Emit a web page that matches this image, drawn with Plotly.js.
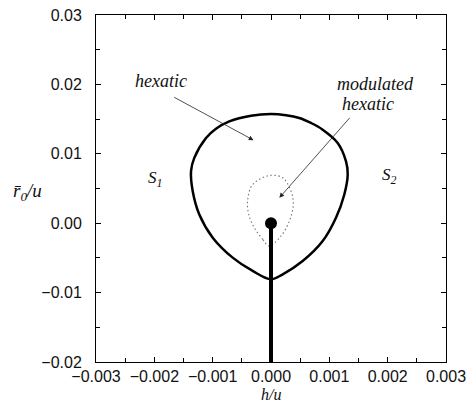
<!DOCTYPE html>
<html>
<head>
<meta charset="utf-8">
<script src="https://cdn.plot.ly/plotly-3.0.1.min.js"></script>
<style>html,body{margin:0;padding:0;background:#fff;}#chart{width:466px;height:405px;}</style>
</head>
<body>
<div id="chart"></div>
<script>
// Outer phase boundary (hexatic region), traced from cusp, left side up, over the top, right side down
const loopX = [0, -0.000314, -0.000657, -0.000999, -0.001229, -0.001342, -0.001371, -0.001315, -0.001114, -0.000943, -0.000715, -0.000343, 0, 0.000257, 0.000485, 0.000686, 0.000886, 0.001143, 0.001286, 0.001315, 0.001257, 0.001114, 0.000886, 0.000543, 0.000201, 0];
const loopY = [-0.00808, -0.00688, -0.00496, -0.00208, 0.00126, 0.00461, 0.00749, 0.00941, 0.01228, 0.01362, 0.01467, 0.01549, 0.01573, 0.01556, 0.01516, 0.01444, 0.01348, 0.01157, 0.00892, 0.00701, 0.00414, 0.00079, -0.00257, -0.00545, -0.00736, -0.00808];
// Inner dotted boundary (modulated hexatic)
const dotX = [-0.00003, -0.000142, -0.000286, -0.000382, -0.000399, -0.000314, -0.00003, 0.000201, 0.000343, 0.000382, 0.000314, 0.000171, -0.00003];
const dotY = [-0.00329, -0.00233, -0.00065, 0.00126, 0.00342, 0.00557, 0.00687, 0.00654, 0.00461, 0.0027, 0.0003, -0.00185, -0.00329];
// First-order line and critical point
const stemX = [0, 0];
const stemY = [0, -0.02];
const critX = [0];
const critY = [0];
// Ticks
const xTicks = [-0.003, -0.002, -0.001, 0, 0.001, 0.002, 0.003];
const yTicks = [-0.02, -0.01, 0, 0.01, 0.02, 0.03];

const serif = "Liberation Serif, Times New Roman, serif";
const sans = "Liberation Sans, Arial, sans-serif";

const traces = [
  {x: loopX, y: loopY, mode: 'lines', line: {color: '#000', width: 2.5, shape: 'spline', smoothing: 1}, hoverinfo: 'skip'},
  {x: dotX, y: dotY, mode: 'lines', line: {color: '#777', width: 1.1, dash: '1.5px,2.5px', shape: 'spline', smoothing: 1}, hoverinfo: 'skip'},
  {x: stemX, y: stemY, mode: 'lines', line: {color: '#000', width: 4}, hoverinfo: 'skip'},
  {x: critX, y: critY, mode: 'markers', marker: {color: '#000', size: 12}, hoverinfo: 'skip'}
];

const axisCommon = {
  showgrid: false, zeroline: false, showline: true, linecolor: '#000', linewidth: 1,
  mirror: 'ticks', ticks: 'inside', ticklen: 5, tickwidth: 1, tickcolor: '#000',
  tickfont: {family: sans, size: 16, color: '#111'}, ticklabeloverflow: 'allow'
};

const layout = {
  width: 466, height: 405,
  margin: {l: 96, r: 20, t: 15, b: 43},
  paper_bgcolor: '#fff', plot_bgcolor: '#fff',
  showlegend: false,
  xaxis: Object.assign({}, axisCommon, {
    range: [-0.003, 0.003], tickmode: 'array', tickvals: xTicks, tickformat: '.3f',
    minor: {dtick: 0.0005, ticks: 'inside', ticklen: 4, tickcolor: '#000', tickwidth: 1},
    ticklabelstandoff: 0
  }),
  yaxis: Object.assign({}, axisCommon, {
    range: [-0.02, 0.03], tickmode: 'array', tickvals: yTicks, tickformat: '.2f',
    minor: {dtick: 0.005, ticks: 'inside', ticklen: 4, tickcolor: '#000', tickwidth: 1},
    ticklabelstandoff: 10
  }),
  annotations: [
    {x: -0.0003, y: 0.01197, ax: -0.001685, ay: 0.01826, axref: 'x', ayref: 'y', xref: 'x', yref: 'y',
     showarrow: true, arrowhead: 2, arrowsize: 1.2, arrowwidth: 0.8, arrowcolor: '#222', text: ''},
    {x: 0.000143, y: 0.00366, ax: 0.001371, ay: 0.01539, axref: 'x', ayref: 'y', xref: 'x', yref: 'y',
     showarrow: true, arrowhead: 2, arrowsize: 1.2, arrowwidth: 0.8, arrowcolor: '#222', text: ''},
    {x: -0.00189, y: 0.02056, xref: 'x', yref: 'y', showarrow: false, yanchor: 'middle',
     text: '<i>hexatic</i>', font: {family: serif, size: 18, color: '#111'}},
    {x: 0.00179, y: 0.02009, xref: 'x', yref: 'y', showarrow: false, yanchor: 'middle',
     text: '<i>modulated</i>', font: {family: serif, size: 18, color: '#111'}},
    {x: 0.00166, y: 0.01721, xref: 'x', yref: 'y', showarrow: false, yanchor: 'middle',
     text: '<i>hexatic</i>', font: {family: serif, size: 18, color: '#111'}},
    {x: -0.00199, y: 0.0064, xref: 'x', yref: 'y', showarrow: false, yanchor: 'middle',
     text: '<i>S</i><sub><i>1</i></sub>', font: {family: serif, size: 17, color: '#111'}},
    {x: 0.00203, y: 0.0068, xref: 'x', yref: 'y', showarrow: false, yanchor: 'middle',
     text: '<i>S</i><sub><i>2</i></sub>', font: {family: serif, size: 17, color: '#111'}},
    {x: 0.5, y: -0.121, xref: 'paper', yref: 'paper', showarrow: false, yanchor: 'bottom', borderpad: 0,
     text: '<i>h/u</i>', font: {family: serif, size: 16, color: '#111'}},
    {x: -0.195, y: 0.49, xref: 'paper', yref: 'paper', showarrow: false, xanchor: 'center',
     text: '<i>r\u0304</i><sub><i>0</i></sub><i>/u</i>', font: {family: serif, size: 19, color: '#111'}}
  ]
};

Plotly.newPlot('chart', traces, layout, {displayModeBar: false, staticPlot: true});
</script>
</body>
</html>
